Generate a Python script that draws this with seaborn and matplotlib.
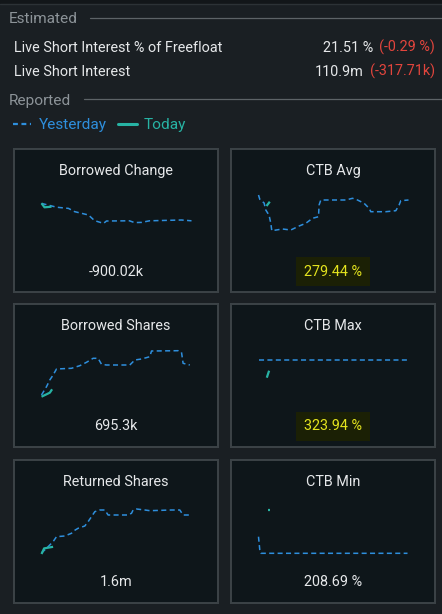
import numpy as np
import pandas as pd
import seaborn as sns
import matplotlib.pyplot as plt
from matplotlib.lines import Line2D

#Colours of the dark app theme
BG = '#1a1f23'
PANEL = '#0e161a'
BORDER = '#3c4347'
GREY = '#8c9398'
WHITE = '#e6e8ea'
RED = '#e2453d'
BLUE = '#2e8fdd'
TEAL = '#27b3a4'
YELLOW = '#e3e31e'
HILITE = '#1b2005'

#Header numbers
est_labels = ['Live Short Interest % of Freefloat', 'Live Short Interest']
est_values = ['21.51 %', '110.9m']
est_changes = ['(-0.29 %)', '(-317.71k)']

#Sparkline data (t = hours into the session)
bc_yest_t = [0, 1.5, 2.7, 3.3, 4.7, 5.3, 6.2, 6.5, 8.8, 9.3, 10, 10.8, 14, 15]
bc_yest = [-420, -610, -670, -830, -1000, -1280, -1420, -1300, -1290, -1380, -1370, -1290, -1250, -1290]
bc_today_t = [0, 0.3, 1.0]
bc_today = [-415, -615, -585]

avg_yest_t = [0, 0.13, 0.56, 0.73, 1.06, 1.23, 1.33, 2.4, 3.23, 4.06, 4.73, 5.4, 6.0, 6.06, 6.23,
              7.73, 8.73, 9.4, 9.9, 10.56, 11.06, 11.23, 12.73, 13.73, 14.06, 14.23, 15.0]
avg_yest = [330, 321.4, 314, 300, 289.4, 273.4, 258.6, 262, 260, 268, 273.4, 283.4, 286.6, 310, 320,
            320, 320, 323.4, 320, 313.4, 303.4, 296.6, 296.6, 298.6, 310, 318.6, 320]
avg_today_t = [0.8, 1.13]
avg_today = [308, 316.6]

bs_yest_t = [0, 0.5, 0.83, 1.16, 1.5, 3.0, 3.83, 4.5, 5.16, 5.66, 6.0, 6.5, 8.83, 9.33, 10.0,
             10.83, 11.0, 13.66, 14.0, 14.16, 14.83]
bs_yest = [450, 533, 600, 650, 710, 717, 743, 777, 817, 817, 757, 750, 750, 800, 810,
           833, 890, 893, 877, 767, 750]
bs_today_t = [0, 0.5, 0.83, 1.06]
bs_today = [433, 457, 473, 507]

max_yest_t = [0, 5, 10, 14.9]
max_yest = [330.3, 330.3, 330.3, 330.3]
max_today_t = [0.83, 1.06]
max_today = [312.3, 319.3]

rs_yest_t = [0, 0.66, 1.16, 1.5, 2.33, 3.0, 3.26, 3.66, 4.33, 4.66, 5.0, 5.33, 5.83, 6.33, 6.66,
             8.66, 9.0, 9.16, 9.5, 10.33, 10.83, 13.0, 13.83, 14.16, 15.0]
rs_yest = [0.825, 0.983, 1.108, 1.233, 1.25, 1.318, 1.383, 1.443, 1.5, 1.608, 1.733, 1.858, 1.9, 1.9, 1.775,
           1.775, 1.818, 1.9, 1.925, 1.9, 1.883, 1.9, 1.9, 1.775, 1.775]
rs_today_t = [0, 0.26, 1.16]
rs_today = [0.8, 0.94, 0.98]

min_yest_t = [0, 0.13, 0.23, 5, 10, 14.9]
min_yest = [219.3, 206, 202.7, 202.7, 202.7, 202.7]
min_today_t = [0.95, 1.15]
min_today = [246, 246]

panels = [
    ('Borrowed Change', '-900.02k', False, bc_yest_t, bc_yest, bc_today_t, bc_today, (-2400, 0)),
    ('CTB Avg', '279.44 %', True, avg_yest_t, avg_yest, avg_today_t, avg_today, (234, 330)),
    ('Borrowed Shares', '695.3k', False, bs_yest_t, bs_yest, bs_today_t, bs_today, (420, 900)),
    ('CTB Max', '323.94 %', True, max_yest_t, max_yest, max_today_t, max_today, (292, 340)),
    ('Returned Shares', '1.6m', False, rs_yest_t, rs_yest, rs_today_t, rs_today, (0.8, 2.0)),
    ('CTB Min', '208.69 %', False, min_yest_t, min_yest, min_today_t, min_today, (202, 250)),
]

sns.set_theme(style='dark')
plt.rcParams['font.family'] = ['Roboto', 'DejaVu Sans']

W, H = 442, 614
fig = plt.figure(figsize=(W / 100, H / 100), dpi=100, facecolor=BG)

#Background axes in pixel units for the header
bg = fig.add_axes([0, 0, 1, 1])
bg.set_xlim(0, W)
bg.set_ylim(H, 0)
bg.axis('off')
bg.axhspan(0, 3, color='#121619')
bg.axhline(3.5, color='#2c3236', lw=1)

FS_HEAD = 11.1   # section headers / legend
FS = 10.4        # body text

bg.text(9, 23, 'Estimated', color=GREY, fontsize=FS_HEAD, va='baseline')
bg.plot([90, W], [18, 18], color='#5d6367', lw=0.9)
for i, lab in enumerate(est_labels):
    yb = 51.5 + i * 24
    bg.text(14, yb, lab, color=WHITE, fontsize=FS, va='baseline')
    bg.text(435, yb, est_changes[i], color=RED, fontsize=FS, va='baseline', ha='right')
bg.text(373, 51.5, est_values[0], color=WHITE, fontsize=FS, va='baseline', ha='right')
bg.text(363, 75.5, est_values[1], color=WHITE, fontsize=FS, va='baseline', ha='right')

bg.text(9, 105, 'Reported', color=GREY, fontsize=FS_HEAD, va='baseline')
bg.plot([84, W], [99, 99], color='#5d6367', lw=0.9)

#Legend
handles = [Line2D([], [], color=BLUE, lw=1.6, linestyle=(0, (2.2, 1.6))),
           Line2D([], [], color=TEAL, lw=2.2)]
fig.legend(handles, ['Yesterday', 'Today'], loc='center left', bbox_to_anchor=(13 / W, 1 - 125 / H),
           bbox_transform=fig.transFigure, ncol=2, frameon=False, fontsize=FS_HEAD, labelcolor='linecolor',
           handlelength=1.2, handletextpad=0.45, columnspacing=0.75, borderpad=0, borderaxespad=0)

#Panels
tops = [149, 304, 460]
lefts = [14, 231]
pw, ph = 204, 143
for k, (title, val, hi, yt, yv, tt, tv, ylim) in enumerate(panels):
    left = lefts[k % 2]
    top = tops[k // 2]
    pax = fig.add_axes([left / W, 1 - (top + ph) / H, pw / W, ph / H])
    pax.set_facecolor(PANEL)
    pax.set_xticks([])
    pax.set_yticks([])
    for s in pax.spines.values():
        s.set_visible(True)
        s.set_color(BORDER)
        s.set_linewidth(1.4)
    pax.text(0.5, 1 - 26.5 / ph, title, transform=pax.transAxes, ha='center', va='baseline',
             color=WHITE, fontsize=FS)
    if hi:
        pax.text(0.5, 1 - 126.5 / ph, val, transform=pax.transAxes, ha='center', va='baseline',
                 color=YELLOW, fontsize=FS,
                 bbox=dict(boxstyle='square,pad=0.52', fc=HILITE, ec='none'))
    else:
        pax.text(0.5, 1 - 126.5 / ph, val, transform=pax.transAxes, ha='center', va='baseline',
                 color=WHITE, fontsize=FS)

    sax = fig.add_axes([(left + 27.5) / W, 1 - (top + 94) / H, 150 / W, 48 / H])
    sax.axis('off')
    sns.lineplot(x=yt, y=yv, ax=sax, sort=False, estimator=None, color=BLUE, lw=1.1,
                 linestyle=(0, (3.3, 2.2)), clip_on=False, legend=False)
    sns.lineplot(x=tt, y=tv, ax=sax, sort=False, estimator=None, color=TEAL, lw=1.6,
                 clip_on=False, legend=False, solid_capstyle='butt')
    sax.set_xlim(0, 15)
    sax.set_ylim(*ylim)

fig.savefig('out.png', dpi=100, facecolor=BG)
